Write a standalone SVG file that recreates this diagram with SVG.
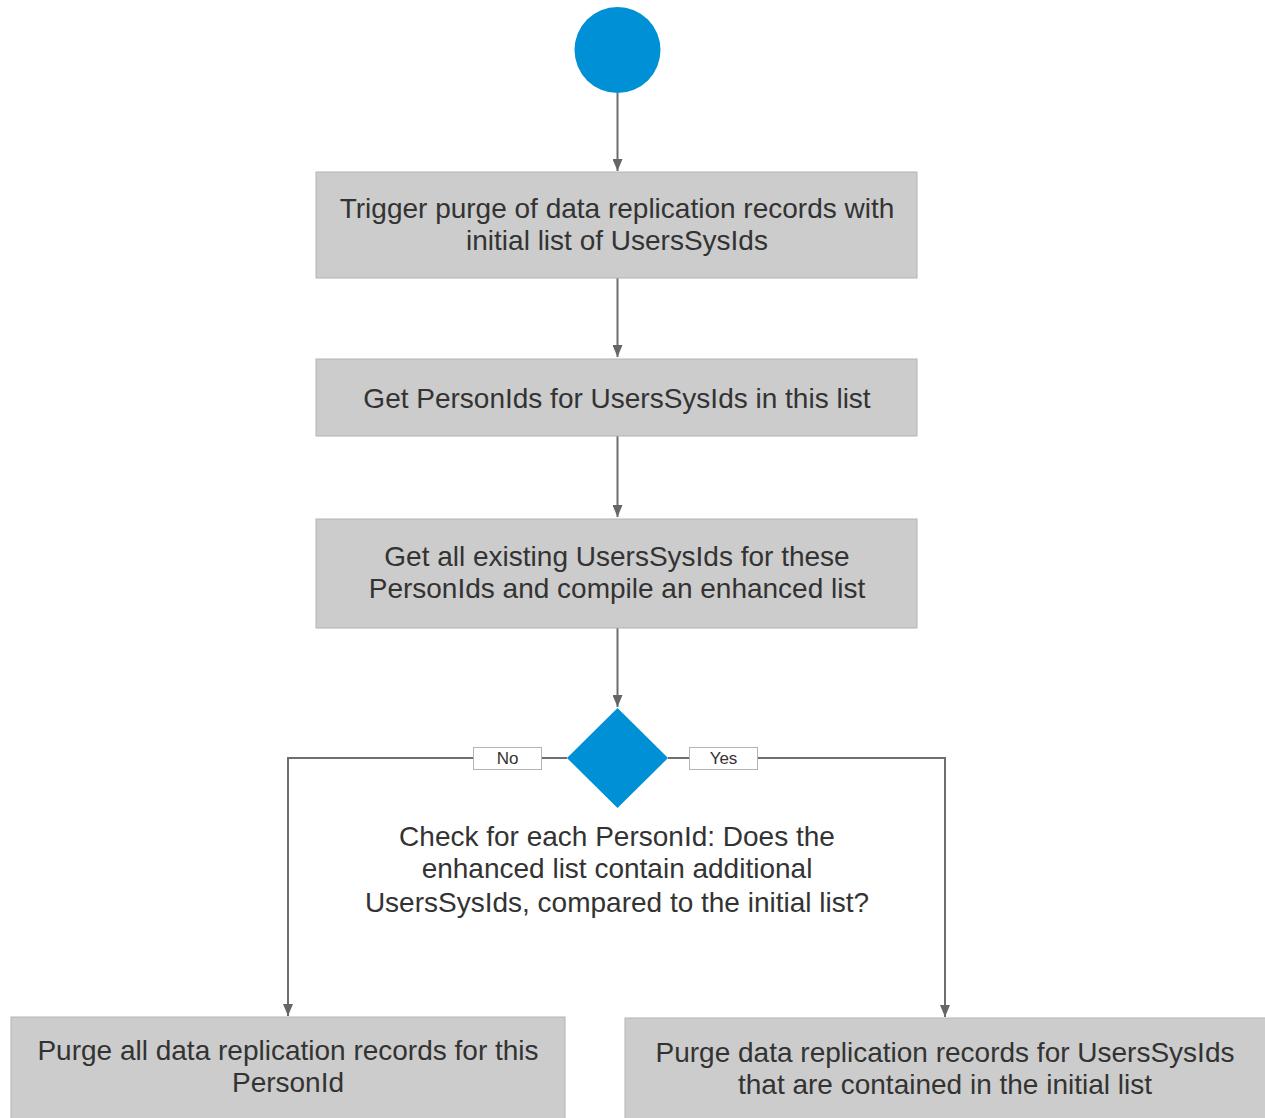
<svg xmlns="http://www.w3.org/2000/svg" width="1265" height="1118" viewBox="0 0 1265 1118">
<style>
.box{fill:#cccccc;stroke:#b3b3b3;stroke-width:1}
.t{font-family:"Liberation Sans",Arial,sans-serif;font-size:28px;fill:#333333;text-anchor:middle}
.lbl{font-family:"Liberation Sans",Arial,sans-serif;font-size:17px;fill:#333333;text-anchor:middle}
.lb{fill:#ffffff;stroke:#b3b3b3;stroke-width:1}
.c{fill:none;stroke:#6e6e6e;stroke-width:2}
.blue{fill:#0090d5}
</style>
<defs>
<marker id="ah" viewBox="0 0 12 10" refX="12" refY="5" markerWidth="12" markerHeight="10" markerUnits="userSpaceOnUse" orient="auto">
<path d="M0,0 L12,5 L0,10 z" fill="#666666"/>
</marker>
</defs>
<rect width="1265" height="1118" fill="#ffffff"/>
<g id="connectors">
<line class="c" x1="617.5" y1="93" x2="617.5" y2="171" marker-end="url(#ah)"/>
<line class="c" x1="617.5" y1="278" x2="617.5" y2="357" marker-end="url(#ah)"/>
<line class="c" x1="617.5" y1="436" x2="617.5" y2="517" marker-end="url(#ah)"/>
<line class="c" x1="617.5" y1="628" x2="617.5" y2="707" marker-end="url(#ah)"/>
<polyline class="c" points="567,758 288,758 288,1016" marker-end="url(#ah)"/>
<polyline class="c" points="668,758 945,758 945,1017" marker-end="url(#ah)"/>
<g id="label-no"><rect class="lb" x="473.5" y="747.5" width="68" height="22"/><text class="lbl" x="507.5" y="764">No</text></g>
<g id="label-yes"><rect class="lb" x="689.5" y="747.5" width="68" height="22"/><text class="lbl" x="723.5" y="764">Yes</text></g>
</g>
<g id="start"><circle class="blue" cx="617.5" cy="50" r="43"/></g>
<g id="n1"><rect class="box" x="316" y="172" width="601" height="106"/>
<text class="t" x="617" y="218">Trigger purge of data replication records with</text>
<text class="t" x="617" y="250">initial list of UsersSysIds</text></g>
<g id="n2"><rect class="box" x="316" y="359" width="601" height="77"/>
<text class="t" x="617" y="408">Get PersonIds for UsersSysIds in this list</text></g>
<g id="n3"><rect class="box" x="316" y="519" width="601" height="109"/>
<text class="t" x="617" y="566">Get all existing UsersSysIds for these</text>
<text class="t" x="617" y="598">PersonIds and compile an enhanced list</text></g>
<g id="decision"><polygon class="blue" points="617.5,708 668,758 617.5,808 567,758"/>
<text class="t" x="617" y="846">Check for each PersonId: Does the</text>
<text class="t" x="617" y="878">enhanced list contain additional</text>
<text class="t" x="617" y="912">UsersSysIds, compared to the initial list?</text></g>
<g id="n4"><rect class="box" x="11" y="1017" width="554" height="110"/>
<text class="t" x="288" y="1060">Purge all data replication records for this</text>
<text class="t" x="288" y="1092">PersonId</text></g>
<g id="n5"><rect class="box" x="625" y="1018" width="650" height="110"/>
<text class="t" x="945" y="1062">Purge data replication records for UsersSysIds</text>
<text class="t" x="945" y="1094">that are contained in the initial list</text></g>
</svg>
